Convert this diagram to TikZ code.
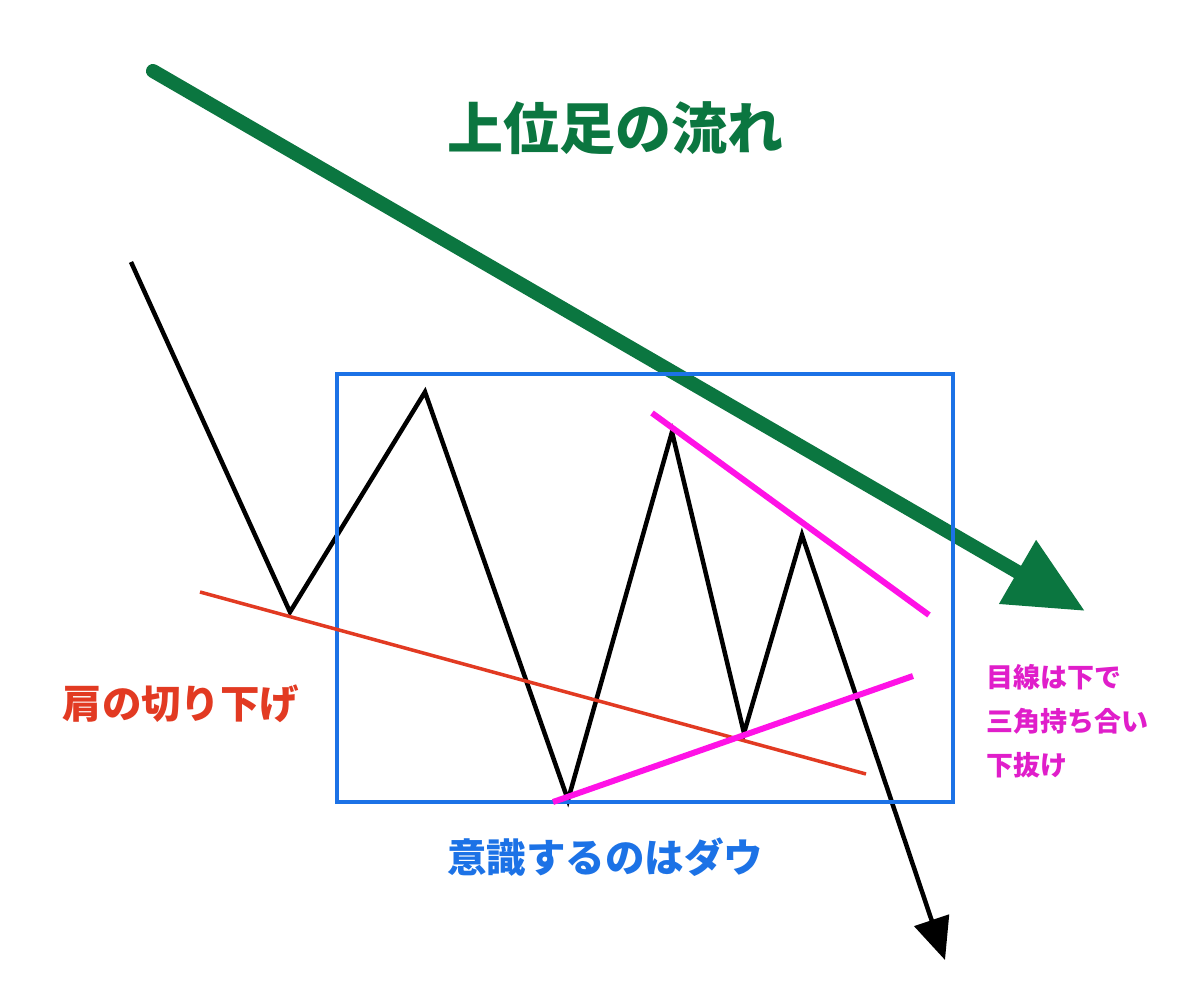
\documentclass[tikz,border=0pt]{standalone}
\usepackage{fontspec}
\newfontfamily\jp{Noto Sans CJK JP}
\usetikzlibrary{arrows.meta}
\definecolor{trendgreen}{HTML}{0B7640}
\definecolor{shoulderred}{HTML}{E23A22}
\definecolor{dowblue}{HTML}{1C72E6}
\definecolor{trimag}{HTML}{FF12E6}
\definecolor{trimagtext}{HTML}{E01ECA}
\tikzset{
  lbl/.style={font=\jp\bfseries, inner sep=0pt, anchor=center},
  price/.style={line width=4.5pt, black, line join=miter},
  tline/.style={line width=6pt, trimag},
}
\begin{document}
\begin{tikzpicture}[x=1pt,y=-1pt]
\useasboundingbox[fill=white] (0,0) rectangle (1200,1004);
% coordinates
\coordinate (g0) at (153,71);
\coordinate (g1) at (1085,611);
\coordinate (p0) at (131,262);
\coordinate (p1) at (290,612);
\coordinate (p2) at (425,392);
\coordinate (p3) at (568,800);
\coordinate (p4) at (672,432);
\coordinate (p5) at (744,733);
\coordinate (p6) at (802,535);
\coordinate (p7) at (945,960);
\coordinate (r0) at (200,592);
\coordinate (r1) at (866,774);
\coordinate (m0) at (652,413);
\coordinate (m1) at (929,615);
\coordinate (n0) at (553,802);
\coordinate (n1) at (913,676);
\coordinate (b0) at (337,374);
\coordinate (b1) at (953,802);
% upper trend arrow
\draw[line width=14pt, trendgreen, line cap=round, -{Triangle[length=78pt,width=70pt]}] (g0) -- (g1);
% price path
\draw[price, -{Triangle[length=42pt,width=36pt]}] (p0) -- (p1) -- (p2) -- (p3) -- (p4) -- (p5) -- (p6) -- (p7);
% box
\draw[line width=3.5pt, dowblue] (b0) rectangle (b1);
% lower shoulder line
\draw[line width=3.5pt, shoulderred] (r0) -- (r1);
% triangle lines
\draw[tline] (m0) -- (m1);
\draw[tline] (n0) -- (n1);
% labels
\node[lbl, text=trendgreen, font=\jp\bfseries\fontsize{56pt}{60pt}\selectfont] (title) at (615,128) {上位足の流れ};
\node[lbl, text=shoulderred, font=\jp\bfseries\fontsize{39.5pt}{44pt}\selectfont] (shoulder) at (181,704) {肩の切り下げ};
\node[lbl, text=dowblue, font=\jp\bfseries\fontsize{39.5pt}{44pt}\selectfont] (dow) at (605,857) {意識するのはダウ};
\node[lbl, text=trimagtext, font=\jp\bfseries\fontsize{27pt}{44pt}\selectfont, anchor=north west, align=left] (eye) at (986,664) {目線は下で\\三角持ち合い\\下抜け};
\end{tikzpicture}
\end{document}
